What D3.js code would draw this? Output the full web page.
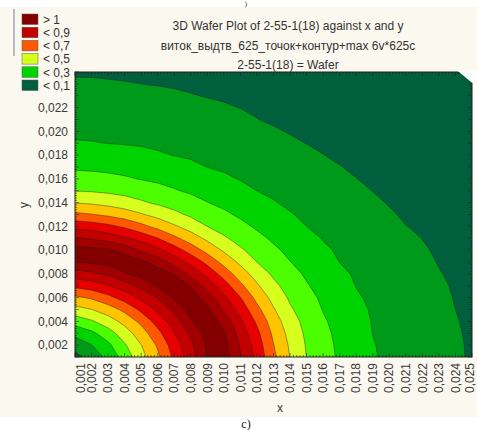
<!DOCTYPE html>
<html>
<head>
<meta charset="utf-8">
<script src="https://cdn.jsdelivr.net/npm/d3@7"></script>
<style>
body { margin: 0; background: #fff; }
svg { display: block; font-family: "Liberation Sans", Arial, sans-serif; }
</style>
</head>
<body>
<svg id="chart" width="477" height="430"></svg>
<script>
// grid of the wafer measurement (x, y in the same units as the axes)
var xGrid = [0.001,0.002,0.003,0.004,0.005,0.006,0.007,0.008,0.009,0.010,0.011,0.012,0.013,
             0.014,0.015,0.016,0.017,0.018,0.019,0.020,0.021,0.022,0.023,0.024,0.025];
var yGrid = [0.001,0.002,0.003,0.004,0.005,0.006,0.007,0.008,0.009,0.010,0.011,0.012,0.013,
             0.014,0.015,0.016,0.017,0.018,0.019,0.020,0.021,0.022,0.023,0.024,0.025];

// one row per y (from y = 0.001 upward), one value per x
var zRows = [
 [0.073,0.132,0.232,0.341,0.465,0.581,0.723,0.852,1.005,1.048,0.911,0.771,0.622,0.496,0.398,0.338,0.286,0.246,0.207,0.184,0.166,0.147,0.128,0.109,0.093],
 [0.132,0.197,0.277,0.389,0.498,0.613,0.751,0.875,1.019,1.035,0.889,0.753,0.604,0.486,0.392,0.333,0.282,0.243,0.204,0.183,0.164,0.145,0.127,0.108,0.093],
 [0.232,0.277,0.357,0.453,0.551,0.671,0.795,0.917,1.043,1.014,0.859,0.725,0.580,0.468,0.382,0.323,0.277,0.238,0.199,0.181,0.162,0.143,0.125,0.106,0.091],
 [0.341,0.389,0.453,0.531,0.625,0.741,0.852,0.990,1.066,0.966,0.817,0.684,0.549,0.444,0.369,0.311,0.269,0.230,0.196,0.177,0.159,0.140,0.122,0.103,0.090],
 [0.465,0.498,0.551,0.625,0.723,0.820,0.928,1.038,1.027,0.889,0.765,0.628,0.509,0.413,0.351,0.296,0.259,0.221,0.192,0.173,0.155,0.137,0.118,0.100,0.087],
 [0.581,0.613,0.671,0.741,0.820,0.906,1.019,1.053,0.957,0.823,0.703,0.571,0.468,0.386,0.331,0.283,0.246,0.209,0.186,0.168,0.150,0.132,0.114,0.097,0.085],
 [0.723,0.751,0.795,0.852,0.928,1.019,1.061,0.994,0.859,0.748,0.622,0.513,0.424,0.361,0.307,0.269,0.232,0.198,0.180,0.162,0.145,0.127,0.109,0.094,0.081],
 [0.852,0.875,0.917,0.990,1.038,1.053,0.994,0.871,0.771,0.659,0.549,0.458,0.384,0.333,0.287,0.252,0.216,0.191,0.173,0.156,0.138,0.121,0.103,0.090,0.078],
 [1.005,1.019,1.043,1.066,1.027,0.957,0.859,0.771,0.672,0.567,0.479,0.400,0.351,0.302,0.267,0.233,0.199,0.183,0.166,0.148,0.131,0.114,0.097,0.086,0.074],
 [1.048,1.035,1.014,0.966,0.889,0.823,0.748,0.659,0.567,0.486,0.413,0.363,0.316,0.279,0.246,0.213,0.190,0.174,0.157,0.140,0.123,0.106,0.093,0.081,0.069],
 [0.911,0.889,0.859,0.817,0.765,0.703,0.622,0.549,0.479,0.413,0.367,0.323,0.286,0.255,0.224,0.196,0.180,0.164,0.148,0.132,0.115,0.099,0.087,0.076,0.064],
 [0.771,0.753,0.725,0.684,0.628,0.571,0.513,0.458,0.400,0.363,0.323,0.288,0.260,0.230,0.200,0.185,0.170,0.154,0.138,0.118,0.101,0.093,0.082,0.070,0.059],
 [0.622,0.604,0.580,0.549,0.509,0.468,0.424,0.384,0.351,0.316,0.286,0.260,0.232,0.204,0.188,0.173,0.158,0.143,0.128,0.107,0.092,0.087,0.076,0.064,0.053],
 [0.496,0.486,0.468,0.444,0.413,0.386,0.361,0.333,0.302,0.279,0.255,0.230,0.204,0.189,0.175,0.161,0.147,0.127,0.111,0.096,0.091,0.080,0.069,0.058,0.047],
 [0.398,0.392,0.382,0.369,0.351,0.331,0.307,0.287,0.267,0.246,0.224,0.200,0.188,0.175,0.162,0.148,0.129,0.114,0.099,0.094,0.083,0.073,0.062,0.052,0.041],
 [0.338,0.333,0.323,0.311,0.296,0.283,0.269,0.252,0.233,0.213,0.196,0.185,0.173,0.161,0.148,0.129,0.116,0.101,0.090,0.086,0.076,0.066,0.055,0.045,0.034],
 [0.286,0.282,0.277,0.269,0.259,0.246,0.232,0.216,0.199,0.190,0.180,0.170,0.158,0.147,0.129,0.116,0.102,0.091,0.087,0.078,0.068,0.058,0.048,0.037,0.029],
 [0.246,0.243,0.238,0.230,0.221,0.209,0.198,0.191,0.183,0.174,0.164,0.154,0.143,0.127,0.114,0.101,0.091,0.088,0.079,0.069,0.060,0.050,0.040,0.030,0.026],
 [0.207,0.204,0.199,0.196,0.192,0.186,0.180,0.173,0.166,0.157,0.148,0.138,0.128,0.111,0.099,0.090,0.087,0.079,0.070,0.061,0.051,0.042,0.032,0.027,0.023],
 [0.184,0.183,0.181,0.177,0.173,0.168,0.162,0.156,0.148,0.140,0.132,0.118,0.107,0.096,0.094,0.086,0.078,0.069,0.061,0.052,0.043,0.033,0.028,0.024,0.020],
 [0.166,0.164,0.162,0.159,0.155,0.150,0.145,0.138,0.131,0.123,0.115,0.101,0.092,0.091,0.083,0.076,0.068,0.060,0.051,0.043,0.034,0.028,0.024,0.021,0.017],
 [0.147,0.145,0.143,0.140,0.137,0.132,0.127,0.121,0.114,0.106,0.099,0.093,0.087,0.080,0.073,0.066,0.058,0.050,0.042,0.033,0.028,0.024,0.021,0.017,0.013],
 [0.128,0.127,0.125,0.122,0.118,0.114,0.109,0.103,0.097,0.093,0.087,0.082,0.076,0.069,0.062,0.055,0.048,0.040,0.032,0.028,0.024,0.021,0.017,0.014,0.010],
 [0.109,0.108,0.106,0.103,0.100,0.097,0.094,0.090,0.086,0.081,0.076,0.070,0.064,0.058,0.052,0.045,0.037,0.030,0.027,0.024,0.021,0.017,0.014,0.010,0.007],
 [0.093,0.093,0.091,0.090,0.087,0.085,0.081,0.078,0.074,0.069,0.064,0.059,0.053,0.047,0.041,0.034,0.029,0.026,0.023,0.020,0.017,0.013,0.010,0.007,0.003]
];
// grid points without a measurement (outside the wafer)
var missingPoints = [[0.025, 0.025]];

var levels     = [0.1,0.2,0.3,0.4,0.5,0.6,0.7,0.8,0.9,1.0];
var bandColors = ["#00603e","#009a1a","#00d400","#4cff00","#d6ff1e","#ffc400",
                  "#ff5800","#e60000","#c20000","#a20000","#840000"];

var legendLabels = ["> 1","< 0,9","< 0,7","< 0,5","< 0,3","< 0,1"];
var legendColors = ["#840000","#c20000","#ff5800","#d6ff1e","#00d400","#00603e"];

var yTicks = [0.002,0.004,0.006,0.008,0.010,0.012,0.014,0.016,0.018,0.020,0.022];
var titleLines = ["3D Wafer Plot of 2-55-1(18) against x and y",
                  "виток_выдтв_625_точок+контур+max 6v*625c",
                  "2-55-1(18) = Wafer"];

var svg = d3.select("#chart");
var plot = {left: 75, right: 472, top: 72, bottom: 357};
var fmt = function(v) { return d3.format(".3f")(v).replace(".", ","); };

var x = d3.scaleLinear().domain([xGrid[0], xGrid[xGrid.length-1]]).range([plot.left, plot.right]);
var y = d3.scaleLinear().domain([yGrid[0], yGrid[yGrid.length-1]]).range([plot.bottom, plot.top]);
var dx = xGrid[1] - xGrid[0], dy = yGrid[1] - yGrid[0];

// page background
svg.append("rect").attr("x", 0).attr("y", 7).attr("width", 477).attr("height", 410).attr("fill", "#fbf8ef");
svg.append("rect").attr("x", plot.right + 1).attr("y", plot.top).attr("width", 10)
	.attr("height", plot.bottom - plot.top).attr("fill", "#fdfdfb");
svg.append("line").attr("x1", 14).attr("x2", 14).attr("y1", 9).attr("y2", 56)
	.attr("stroke", "#b8bcc0").attr("stroke-width", 2);

// contours
var values = [];
zRows.forEach(function(row) { row.forEach(function(v) { values.push(v); }); });
var contours = d3.contours().size([xGrid.length, yGrid.length]).thresholds(levels)(values);

var toPlot = d3.geoTransform({
	point: function(cx, cy) {
		this.stream.point(x(xGrid[0] + (cx - 0.5) * dx), y(yGrid[0] + (cy - 0.5) * dy));
	}
});
var path = d3.geoPath(toPlot);

svg.append("clipPath").attr("id", "clip").append("rect")
	.attr("x", plot.left).attr("y", plot.top)
	.attr("width", plot.right - plot.left).attr("height", plot.bottom - plot.top);

var g = svg.append("g").attr("clip-path", "url(#clip)");
g.append("rect").attr("x", plot.left).attr("y", plot.top)
	.attr("width", plot.right - plot.left).attr("height", plot.bottom - plot.top)
	.attr("fill", bandColors[0]);
g.selectAll("path.band").data(contours).enter().append("path")
	.attr("class", "band")
	.attr("d", path)
	.attr("fill", function(d, i) { return bandColors[i + 1]; })
	.attr("stroke", "#1e1e1e").attr("stroke-width", 0.5).attr("stroke-opacity", 0.85);

// frame and ticks
svg.append("rect").attr("x", plot.left).attr("y", plot.top)
	.attr("width", plot.right - plot.left).attr("height", plot.bottom - plot.top)
	.attr("fill", "none").attr("stroke", "#222").attr("stroke-width", 1);

var minorX = d3.range(0, 121).map(function(k) { return xGrid[0] + k * dx / 5; });
var minorY = d3.range(0, 121).map(function(k) { return yGrid[0] + k * dy / 5; });
var ticks = svg.append("g").attr("stroke", "#222").attr("stroke-width", 0.6);
minorX.forEach(function(v, k) {
	var len = (k % 5 === 0) ? 4 : 2;
	ticks.append("line").attr("x1", x(v)).attr("x2", x(v)).attr("y1", plot.bottom).attr("y2", plot.bottom - len);
	ticks.append("line").attr("x1", x(v)).attr("x2", x(v)).attr("y1", plot.top).attr("y2", plot.top + len);
});
minorY.forEach(function(v, k) {
	var len = (k % 5 === 0) ? 4 : 2;
	ticks.append("line").attr("y1", y(v)).attr("y2", y(v)).attr("x1", plot.left).attr("x2", plot.left + len);
	ticks.append("line").attr("y1", y(v)).attr("y2", y(v)).attr("x1", plot.right).attr("x2", plot.right - len);
});

// cells with no data
missingPoints.forEach(function(p) {
	var px = x(p[0]), py = y(p[1]);
	svg.append("polygon")
		.attr("points", [[x(p[0] - 0.93 * dx), py - 2], [px + 6, py - 2], [px + 6, y(p[1] - 0.95 * dy)], [px, y(p[1] - 0.9 * dy)]].join(" "))
		.attr("fill", "#fdfdfb");
});

// axis labels
svg.append("g").selectAll("text").data(yTicks).enter().append("text")
	.attr("x", 68).attr("y", function(d) { return y(d); }).attr("dy", "0.35em")
	.attr("text-anchor", "end").attr("font-size", 12).attr("fill", "#3a3a3a")
	.text(fmt);

svg.append("g").selectAll("text").data(xGrid).enter().append("text")
	.attr("transform", function(d) {
		var cx = Math.max(plot.left + 6, Math.min(plot.right - 2, x(d)));
		return "translate(" + cx + "," + (plot.bottom + 6) + ") rotate(-90)";
	})
	.attr("dy", "0.35em").attr("text-anchor", "end")
	.attr("font-size", 12).attr("fill", "#3a3a3a")
	.text(fmt);

svg.append("text").attr("x", 280).attr("y", 412).attr("text-anchor", "middle")
	.attr("font-size", 12).attr("fill", "#3a3a3a").text("x");
svg.append("text").attr("transform", "translate(28,205) rotate(-90)").attr("text-anchor", "middle")
	.attr("font-size", 12).attr("fill", "#3a3a3a").text("y");

// title
svg.append("g").selectAll("text").data(titleLines).enter().append("text")
	.attr("x", 288).attr("y", function(d, i) { return 30 + i * 19.5; })
	.attr("text-anchor", "middle").attr("font-size", 12).attr("fill", "#333")
	.text(function(d) { return d; });

// legend
var leg = svg.append("g").selectAll("g").data(legendLabels).enter().append("g")
	.attr("transform", function(d, i) { return "translate(22," + (14 + i * 13.2) + ")"; });
leg.append("rect").attr("width", 16).attr("height", 10.5)
	.attr("fill", function(d, i) { return legendColors[i]; })
	.attr("stroke", "#555").attr("stroke-width", 0.5);
leg.append("text").attr("x", 21).attr("y", 5.5).attr("dy", "0.35em")
	.attr("font-size", 12).attr("fill", "#333").text(function(d) { return d; });

// figure captions around the chart
svg.append("text").attr("x", 246).attr("y", 6).attr("text-anchor", "middle")
	.attr("font-family", "'Liberation Serif', serif").attr("font-size", 7).attr("fill", "#222").text(")");
svg.append("text").attr("x", 246).attr("y", 428).attr("text-anchor", "middle")
	.attr("font-family", "'Liberation Serif', serif").attr("font-size", 12).attr("fill", "#111").text("с)");
</script>
</body>
</html>
